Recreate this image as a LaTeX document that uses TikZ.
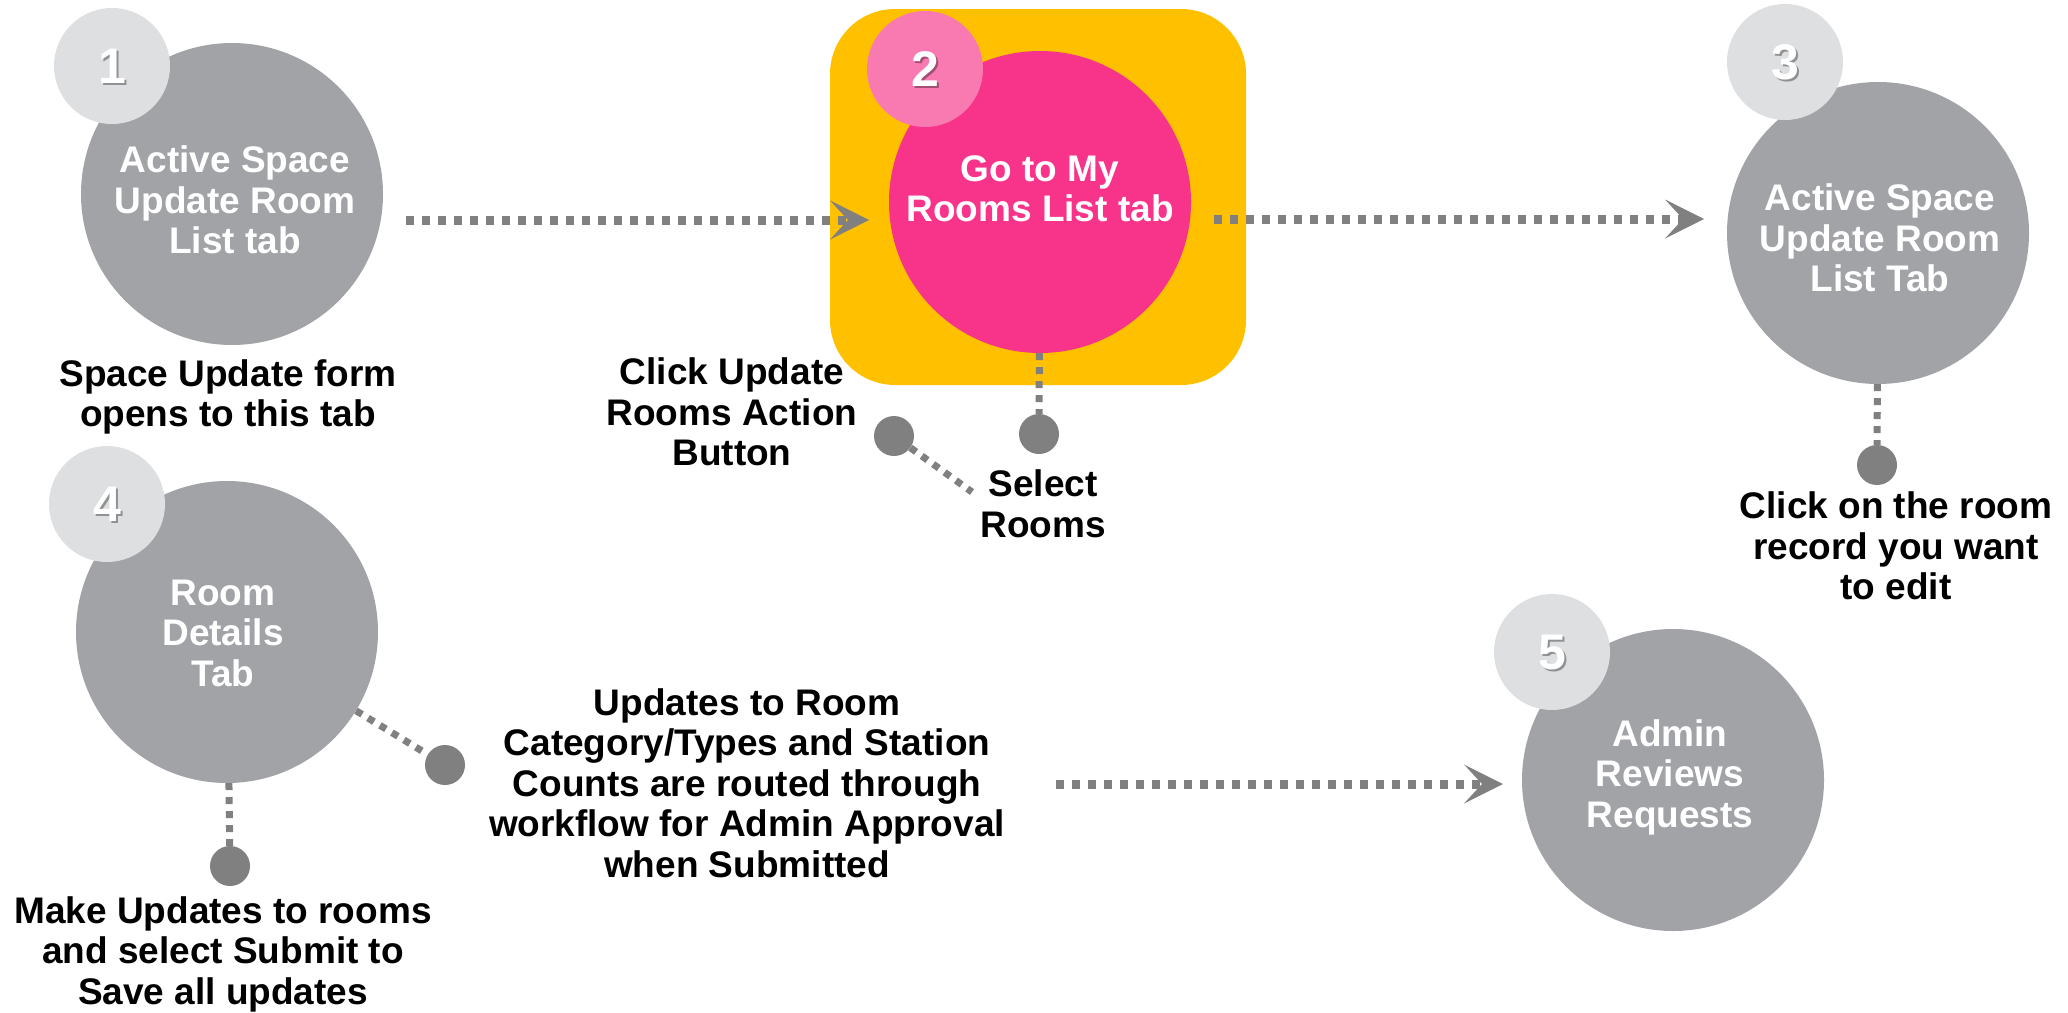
\documentclass[tikz,border=0pt]{standalone}
\usepackage{fontspec}
\setmainfont{Liberation Sans}
\usetikzlibrary{arrows.meta}
\definecolor{cgray}{HTML}{A1A3A7}
\definecolor{clight}{HTML}{DEDFE1}
\definecolor{cdot}{HTML}{808080}
\definecolor{cyel}{HTML}{FFC000}
\definecolor{cpink}{HTML}{F7338A}
\definecolor{clpink}{HTML}{F97AB1}
\begin{document}
\begin{tikzpicture}[x=1pt,y=-1pt,
  bigc/.style={circle,inner sep=0pt,minimum size=302pt,fill=cgray},
  smallc/.style={circle,inner sep=0pt,minimum size=116pt,fill=clight},
  dotn/.style={circle,inner sep=0pt,minimum size=40pt,fill=cdot},
  wtext/.style={text=white,font=\fontsize{37}{40.5}\selectfont\bfseries,align=center,inner sep=0pt},
  btext/.style={text=black,font=\fontsize{37}{40.5}\selectfont\bfseries,align=center,inner sep=0pt},
  numtext/.style={text=white,font=\fontsize{50}{55}\selectfont\bfseries,inner sep=0pt},
  numshadow/.style={text=black,opacity=0.35,font=\fontsize{50}{55}\selectfont\bfseries,inner sep=0pt},
  flow/.style={draw=cdot,line width=9pt,dash pattern=on 8pt off 8pt,
    -{Stealth[length=39pt,width=39pt,inset=18pt,line width=0pt,fill=cdot]}},
  leader/.style={draw=cdot,line width=7pt,dash pattern=on 7pt off 7pt}]
\useasboundingbox (0,0) rectangle (2068,1012);

% step 2 background
\node[rectangle,fill=cyel,rounded corners=65pt,minimum width=416pt,minimum height=376pt,inner sep=0pt] (box2) at (1038,197) {};

% big circles
\node[bigc] (c1) at (232,194) {};
\node[bigc,fill=cpink] (c2) at (1040,202) {};
\node[bigc] (c3) at (1878,233) {};
\node[bigc] (c4) at (227,632) {};
\node[bigc] (c5) at (1673,780) {};

% small number circles
\node[smallc] (s1) at (112,66) {};
\node[smallc,fill=clpink] (s2) at (925,69) {};
\node[smallc] (s3) at (1785,62) {};
\node[smallc] (s4) at (107,504) {};
\node[smallc] (s5) at (1552,652) {};

% numbers
\node[numshadow] (n1s) at (114,68) {1};
\node[numtext] (n1) at (112,66) {1};
\node[numshadow] (n2s) at (927,71) {2};
\node[numtext] (n2) at (925,69) {2};
\node[numshadow] (n3s) at (1787,64) {3};
\node[numtext] (n3) at (1785,62) {3};
\node[numshadow] (n4s) at (109,506) {4};
\node[numtext] (n4) at (107,504) {4};
\node[numshadow] (n5s) at (1554,655) {5};
\node[numtext] (n5) at (1552,653) {5};

% circle texts
\node[wtext] (t1) at (235,200) {Active Space\\Update Room\\List tab};
\node[wtext] (t2) at (1040,189) {Go to My\\Rooms List tab};
\node[wtext] (t3) at (1880,238) {Active Space\\Update Room\\List Tab};
\node[wtext] (t4) at (223,633) {Room\\Details\\Tab};
\node[wtext] (t5) at (1670,777) {Admin\\Reviews\\Requests};

% labels
\node[btext] (l1) at (228,397) {Space Update form\\opens to this tab};
\node[btext] (lclick) at (732,412) {Click Update\\Rooms Action\\Button};
\node[btext] (lsel) at (1043,504) {Select\\Rooms};
\node[btext] (l3) at (1896,546) {Click on the room\\record you want\\to edit};
\node[btext] (l4) at (223,954) {Make Updates to rooms\\and select Submit to\\Save all updates};
\node[btext] (lupd) at (747,783) {Updates to Room\\Category/Types and Station\\Counts are routed through\\workflow for Admin Approval\\when Submitted};

% dots
\node[dotn] (d2) at (1039,434) {};
\node[dotn] (dclick) at (894,436) {};
\node[dotn] (d3) at (1877,465) {};
\node[dotn] (d4a) at (230,866) {};
\node[dotn] (d4b) at (445,765) {};
\coordinate (selend) at (972,492);

% leader lines
\draw[leader] (c2) -- (d2);
\draw[leader] (dclick) -- (selend);
\draw[leader] (c3) -- (d3);
\draw[leader] (c4) -- (d4a);
\draw[leader] (c4) -- (d4b);

% flow arrows
\coordinate (a12s) at (406,220);
\coordinate (a12e) at (869,220);
\coordinate (a23s) at (1214,219);
\coordinate (a23e) at (1704,219);
\coordinate (a45s) at (1056,784);
\coordinate (a45e) at (1503,784);
\draw[flow] (a12s) -- (a12e);
\draw[flow] (a23s) -- (a23e);
\draw[flow] (a45s) -- (a45e);
\end{tikzpicture}
\end{document}
